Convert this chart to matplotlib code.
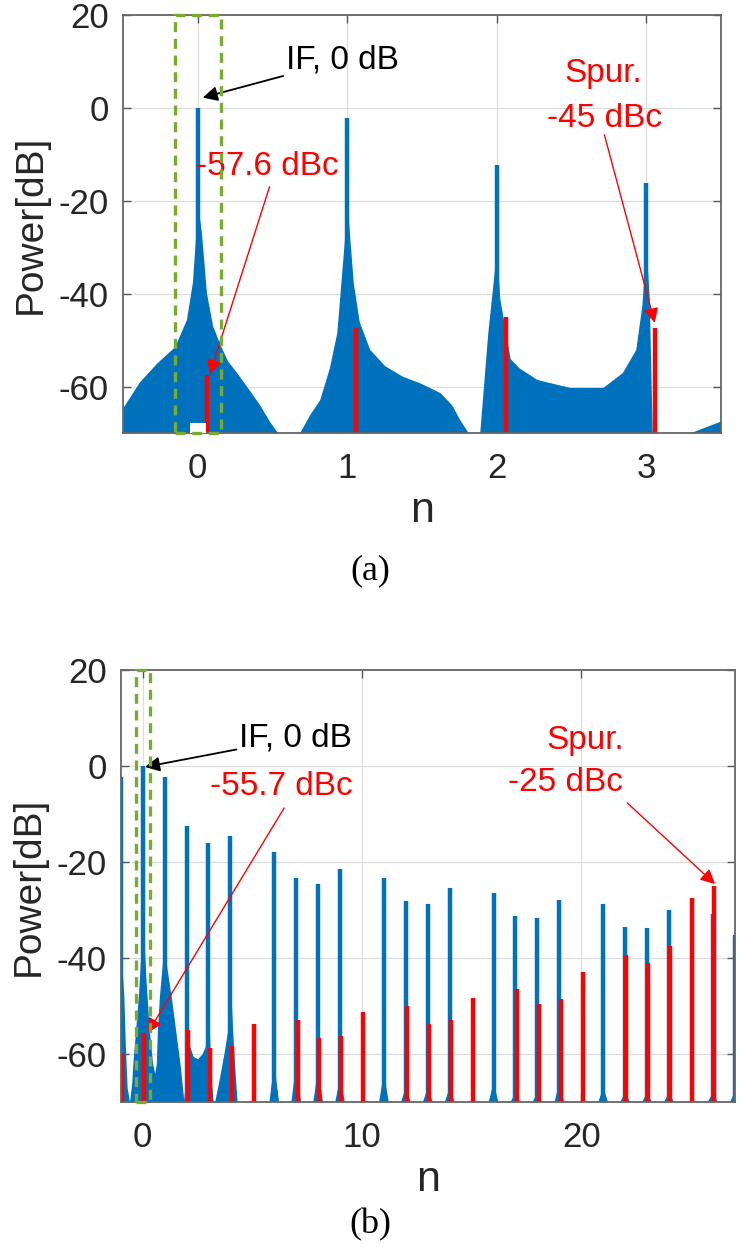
import matplotlib.pyplot as plt
from matplotlib.patches import Rectangle

plt.rcParams['font.family'] = ['Liberation Sans', 'DejaVu Sans']
plt.rcParams['axes.unicode_minus'] = False

# ---------- (a) data ----------
tone_a_n = [0, 1, 2, 3]
tone_a_db = [0, -2.2, -12.4, -16.1]
spur_a_n = [0.062, 1.06, 2.06, 3.057]
spur_a_db = [-57.6, -47.3, -45, -47.3]

# skirt envelope (n, dB)
env_a_n = [-0.5, -0.39, -0.276, -0.154, -0.076, -0.036, -0.013, 0.0, 0.013, 0.025, 0.058,
           0.1, 0.155, 0.2, 0.26, 0.35, 0.415, 0.48, 0.535, 0.68, 0.75, 0.816, 0.88, 0.93, 0.97,
           0.99, 1.0, 1.01, 1.04, 1.08, 1.15, 1.25, 1.37, 1.485, 1.62, 1.7, 1.75, 1.81, 1.886,
           1.94, 1.98, 2.0, 2.02, 2.09, 2.15, 2.27, 2.49, 2.71, 2.84, 2.93, 2.97, 3.0, 3.02, 3.04,
           3.29, 3.5]
env_a_db = [-64.5, -59, -55, -51.4, -45.6, -37.6, -27, -20, -24, -27, -39.8,
            -47, -51.4, -54.5, -57, -61, -64, -67.5, -70, -70, -66, -62.8, -56, -48.4, -32.7,
            -25, -20, -25, -37.6, -46, -52, -55.5, -57.8, -59.2, -61.3, -64, -67, -70, -70,
            -48.4, -36.3, -30, -41, -54, -56, -58.5, -60.2, -60.2, -57, -52, -42.7, -30, -41, -70,
            -70, -67.4]

# ---------- (b) data ----------
tone_b_n = [-1, 0, 1, 2, 3, 4, 6, 7, 8, 9, 11, 12, 13, 14, 16, 17, 18, 19, 21, 22, 23, 24, 26, 27]
tone_b_db = [-2.3, 0, -2.3, -12.6, -16, -14.5, -17.9, -23.3, -24.6, -21.5, -23.3, -28.1, -28.8,
             -25.4, -26.5, -31.2, -31.6, -28, -28.8, -33.5, -33.8, -30, -30.8, -35.2]
spur_b_n = [-0.94, 0.06, 2.06, 3.06, 4.06, 5.06, 7.06, 8.06, 9.06, 10.06, 12.06, 13.06, 14.06,
            15.06, 17.06, 18.06, 19.06, 20.06, 22.06, 23.06, 24.06, 25.06, 26.06]
spur_b_db = [-60, -55.7, -55, -58.8, -58.3, -53.8, -52.9, -56.6, -56.2, -51.3, -50.1, -53.8, -53,
             -48.3, -46.5, -49.6, -48.5, -42.9, -39.4, -41, -37.6, -27.4, -25]

env_b_n = [-1.0, -0.86, -0.79, -0.71, -0.6, -0.5, -0.45, -0.3, -0.2, -0.12, -0.06, 0.0, 0.06,
           0.15, 0.3, 0.45, 0.55, 0.62, 0.67, 0.76, 0.88, 1.0, 1.1, 1.3, 1.5, 1.7, 1.87,
           1.95, 1.98, 2.0, 2.05, 2.15, 2.3, 2.5, 2.7, 2.85, 2.95, 3.0, 3.1, 3.2, 3.28,
           3.5, 3.7, 3.86, 3.95, 4.0, 4.1, 4.2, 4.3]
env_b_db = [-38, -48, -58.5, -67, -70, -66, -62, -53.6, -48, -42, -36, -33, -36,
            -44.6, -55, -62, -64, -62, -55, -48, -42, -36, -42, -48, -55, -62, -69.5,
            -66, -58, -50, -55, -58.5, -60.5, -61, -60, -58.5, -55, -50, -63, -69.5, -70,
            -65, -60, -55.5, -50, -45, -55, -63, -69.5]
# small skirts at the base of the higher harmonics
skirt_b_n = [6, 7, 8, 9, 11, 12, 13, 14, 16, 17, 18, 19, 21, 22, 23, 24, 26, 27]
skirt_b_db = [-62, -62, -63, -65, -64, -67, -67, -67, -66, -68, -68, -66, -67, -68, -68, -68, -68, -68]

blue = '#0072BD'
red = '#FF0000'
green = '#77AC30'
ymin = -70

fig = plt.figure(figsize=(7.41, 12.47), dpi=100)
ax1 = fig.add_axes([0.166, 0.6528, 0.807, 0.3352])
ax2 = fig.add_axes([0.163, 0.1163, 0.8286, 0.3464])


def style(ax):
    ax.set_ylim(ymin, 20)
    ax.set_yticks([-60, -40, -20, 0, 20])
    ax.grid(True, color='#dcdcdc', lw=0.8)
    ax.set_axisbelow(True)
    ax.tick_params(direction='in', top=True, right=True, length=6, width=1,
                   color='#555555', labelcolor='#262626', labelsize=25)
    ax.tick_params(axis='x', pad=14)
    ax.tick_params(axis='y', pad=10)
    for s in ax.spines.values():
        s.set_color('#666666')
        s.set_linewidth(1.3)
    ax.set_ylabel('Power[dB]', fontsize=28, color='#262626', labelpad=7)
    ax.set_xlabel('n', fontsize=31, color='#262626', labelpad=4)


# ---- panel (a) ----
ax1.fill_between(env_a_n, env_a_db, ymin, color=blue, lw=0)
ax1.vlines(tone_a_n, ymin, tone_a_db, color=blue, lw=3.2)
ax1.vlines(spur_a_n, ymin, spur_a_db, color=red, lw=3.2)
ax1.add_patch(Rectangle((-0.053, ymin), 0.11, 2.2, fc='white', ec='none', zorder=3))
ax1.add_patch(Rectangle((-0.155, ymin), 0.31, 90, fill=False, ls=(0, (3, 2)), lw=2.4,
                        ec=green, zorder=4, clip_on=False))
ax1.set_xlim(-0.5, 3.5)
ax1.set_xticks([0, 1, 2, 3])
style(ax1)

ax1.annotate('IF, 0 dB', xy=(0.033, 2.2), xytext=(0.59, 10.3), fontsize=24, color='black',
             va='center', ha='left',
             arrowprops=dict(arrowstyle='-|>', color='black', lw=1.3, mutation_scale=22,
                             shrinkA=0, shrinkB=0))
ax1.text(-0.01, -12.7, '-57.6 dBc', fontsize=24, color=red, va='center', ha='left')
ax1.annotate('', xy=(0.08, -57.4), xytext=(0.48, -17),
             arrowprops=dict(arrowstyle='-|>', color=red, lw=1, mutation_scale=22,
                             shrinkA=0, shrinkB=0))
ax1.text(2.71, 7.5, 'Spur.', fontsize=24, color=red, ha='center', va='center')
ax1.text(2.72, -2.2, '-45 dBc', fontsize=24, color=red, ha='center', va='center')
ax1.annotate('', xy=(3.057, -46.3), xytext=(2.72, -5.8),
             arrowprops=dict(arrowstyle='-|>', color=red, lw=1, mutation_scale=22,
                             shrinkA=0, shrinkB=0))

# ---- panel (b) ----
ax2.fill_between(env_b_n, env_b_db, ymin, color=blue, lw=0)
for n, d in zip(skirt_b_n, skirt_b_db):
    ax2.fill([n - 0.22, n, n + 0.22], [ymin, d, ymin], color=blue, lw=0)
ax2.vlines(tone_b_n, ymin, tone_b_db, color=blue, lw=3.2)
ax2.vlines(spur_b_n, ymin, spur_b_db, color=red, lw=3.2)
ax2.add_patch(Rectangle((-0.29, ymin), 0.64, 90, fill=False, ls=(0, (3, 2)), lw=2.4,
                        ec=green, zorder=4, clip_on=False))
ax2.set_xlim(-1, 27)
ax2.set_xticks([0, 10, 20])
style(ax2)

ax2.annotate('IF, 0 dB', xy=(0.1, -0.2), xytext=(4.4, 5.8), fontsize=24, color='black',
             va='center', ha='left',
             arrowprops=dict(arrowstyle='-|>', color='black', lw=1.3, mutation_scale=22,
                             shrinkA=0, shrinkB=0))
ax2.text(3.05, -4.3, '-55.7 dBc', fontsize=24, color=red, va='center', ha='left')
ax2.annotate('', xy=(0.23, -55.6), xytext=(6.45, -8.75),
             arrowprops=dict(arrowstyle='-|>', color=red, lw=1, mutation_scale=22,
                             shrinkA=0, shrinkB=0))
ax2.text(20.2, 5.4, 'Spur.', fontsize=24, color=red, ha='center', va='center')
ax2.text(19.3, -3.5, '-25 dBc', fontsize=24, color=red, ha='center', va='center')
ax2.annotate('', xy=(26.1, -24.6), xytext=(22.1, -7.7),
             arrowprops=dict(arrowstyle='-|>', color=red, lw=1, mutation_scale=22,
                             shrinkA=0, shrinkB=0))

fig.text(370 / 741, 1 - 571 / 1247, '(a)', family='Liberation Serif', fontsize=26,
         ha='center', va='center')
fig.text(370 / 741, 1 - 1225 / 1247, '(b)', family='Liberation Serif', fontsize=26,
         ha='center', va='center')

fig.savefig('out.png', dpi=100)
